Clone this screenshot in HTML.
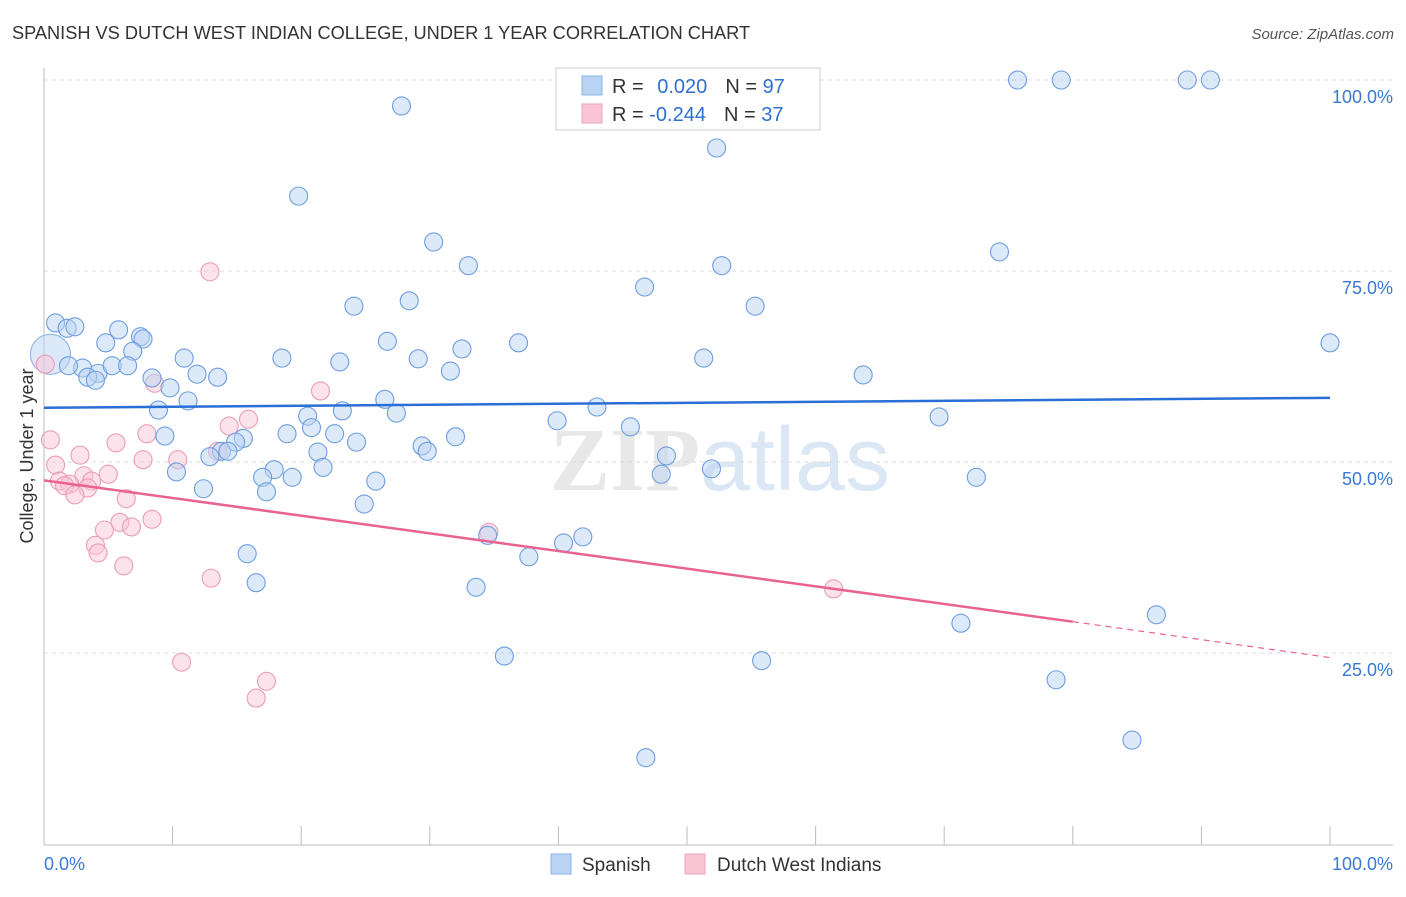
<!DOCTYPE html>
<html><head><meta charset="utf-8"><style>
body{margin:0;background:#fff;font-family:"Liberation Sans",sans-serif;}
</style></head><body>
<svg id="chart" width="1406" height="892" xmlns="http://www.w3.org/2000/svg" font-family="Liberation Sans, sans-serif">
<text x="12" y="39" font-size="18.2" fill="#333">SPANISH VS DUTCH WEST INDIAN COLLEGE, UNDER 1 YEAR CORRELATION CHART</text>
<text x="1394" y="39" font-size="15" fill="#555" text-anchor="end" font-style="italic">Source: ZipAtlas.com</text>
<text x="720" y="490" font-size="90" text-anchor="middle" fill="#e8e8e8" font-family="Liberation Serif, serif" font-weight="bold">ZIP<tspan fill="#dce7f5" font-family="Liberation Sans, sans-serif" font-weight="normal">atlas</tspan></text>
<g id="grid"></g>
<g id="axes"></g>
<g id="pts"></g>
<g id="lines"></g>
<text transform="translate(33,456) rotate(-90)" font-size="18" fill="#333" text-anchor="middle">College, Under 1 year</text>
<g>
<rect x="556" y="68" width="264" height="62" fill="#fff" stroke="#ccc"/>
<rect x="582" y="76" width="20" height="19" fill="#b9d3f3" stroke="#8fb3e4"/>
<rect x="582" y="104" width="20" height="19" fill="#f9c5d5" stroke="#eea3bb"/>
<text x="612" y="93" font-size="20" fill="#333">R = <tspan fill="#2f6fd0" dx="8">0.020</tspan><tspan dx="18">N = </tspan><tspan fill="#2f6fd0">97</tspan></text>
<text x="612" y="121" font-size="20" fill="#333">R = <tspan fill="#2f6fd0">-0.244</tspan><tspan dx="18">N = </tspan><tspan fill="#2f6fd0">37</tspan></text>
</g>
<g>
<rect x="551" y="854" width="20" height="20" fill="#b9d3f3" stroke="#8fb3e4"/>
<text x="582" y="871" font-size="19" fill="#333">Spanish</text>
<rect x="685" y="854" width="20" height="20" fill="#f9c5d5" stroke="#eea3bb"/>
<text x="717" y="871" font-size="19" fill="#333">Dutch West Indians</text>
</g>
<text x="44" y="870" font-size="18" fill="#3a78d4">0.0%</text>
<text x="1393" y="870" font-size="18" fill="#3a78d4" text-anchor="end">100.0%</text>
</svg>
<script>
const yTicks=[25,50,75,100];
const yTickLabels=["25.0%","50.0%","75.0%","100.0%"];
const xTicks=[0,10,20,30,40,50,60,70,80,90,100];
const spanishPx=[[401,106],[298,196],[716,148],[1017,80],[1061,80],[1187,80],[1210,80],[434,242],[468,266],[722,266],[999,252],[644,287],[755,306],[354,306],[409,301],[55,323],[67,328],[75,327],[118,330],[140,337],[143,339],[106,343],[133,351],[387,341],[518,343],[462,349],[282,358],[340,362],[418,359],[450,371],[184,358],[704,358],[863,375],[82,368],[68,366],[98,373],[112,366],[127,366],[88,377],[95,380],[152,378],[197,374],[217,377],[170,388],[188,401],[158,410],[385,399],[396,413],[307,416],[342,411],[597,407],[557,421],[939,417],[312,428],[287,434],[334,434],[165,436],[356,442],[455,437],[630,427],[243,438],[236,442],[222,451],[228,451],[210,457],[422,446],[427,451],[318,452],[667,456],[177,472],[274,470],[323,467],[263,477],[292,477],[376,481],[267,492],[203,489],[711,469],[976,477],[661,474],[364,504],[488,535],[583,537],[563,543],[529,557],[247,554],[256,583],[476,587],[1157,615],[961,623],[504,656],[762,661],[1056,680],[1132,740],[646,758],[1330,343]];
const dutchPx=[[210,272],[320,391],[155,383],[248,419],[229,426],[147,434],[50,440],[116,443],[80,455],[178,460],[143,460],[56,465],[218,451],[108,474],[84,476],[60,481],[70,484],[64,486],[92,481],[88,488],[75,495],[126,499],[120,522],[152,519],[131,527],[104,530],[95,545],[98,553],[124,566],[211,578],[489,532],[833,589],[182,662],[266,681],[256,698],[45,364]];
const spanishX=spanishPx.map(p=>+((p[0]-44)/12.86).toFixed(1));
const spanishY=spanishPx.map(p=>+((844-p[1])/7.64).toFixed(1));
const dutchX=dutchPx.map(p=>+((p[0]-44)/12.86).toFixed(1));
const dutchY=dutchPx.map(p=>+((844-p[1])/7.64).toFixed(1));
const bigBlue=[0.5,64.1];
const blueLine=[[0,57.1],[100,58.4]];
const pinkLine=[[0,47.6],[80,29.1],[100,24.4]];
const X=v=>44+v*12.86, Y=v=>844-v*7.64;
const NS="http://www.w3.org/2000/svg";
function mk(t,a,p){const e=document.createElementNS(NS,t);for(const k in a)e.setAttribute(k,a[k]);p.appendChild(e);return e;}
const grid=document.getElementById('grid'),axes=document.getElementById('axes'),pts=document.getElementById('pts'),lines=document.getElementById('lines');
yTicks.forEach((t,i)=>{
 const l=mk('line',{x1:44,x2:1393,y1:Y(t),y2:Y(t),stroke:'#ddd','stroke-dasharray':'4,4'},grid);
 
 
 const tx=mk('text',{x:1393,y:Y(t)+23,'font-size':18,fill:'#3a78d4','text-anchor':'end'},axes);
 tx.textContent=yTickLabels[i];
 
 
});
const ya=mk('line',{x1:44,x2:44,y1:68,y2:845,stroke:'#bbb'},axes);


const xa=mk('line',{x1:44,x2:1393,y1:845,y2:845,stroke:'#bbb'},axes);


xTicks.forEach(t=>{
 const l=mk('line',{x1:X(t),x2:X(t),y1:826,y2:845,stroke:'#bbb'},axes);
 
 
});
function dot(x,y,r,fill,stroke,name){
 const c=mk('circle',{cx:X(x),cy:Y(y),r:r,fill:fill,'fill-opacity':0.5,stroke:stroke,'stroke-width':1.1},pts);
 
 
}
dot(bigBlue[0],bigBlue[1],20,'#b9d3f3','#8fb3e4','spanish-point');
dutchX.forEach((x,i)=>dot(x,dutchY[i],9,'#f9c5d5','#eb9db7','dutch-point'));
spanishX.forEach((x,i)=>dot(x,spanishY[i],9,'#b9d3f3','#6d9ee0','spanish-point'));
const bl=mk('line',{x1:X(blueLine[0][0]),y1:Y(blueLine[0][1]),x2:X(blueLine[1][0]),y2:Y(blueLine[1][1]),stroke:'#2a6fd6','stroke-width':2.5},lines);


const pl=mk('line',{x1:X(pinkLine[0][0]),y1:Y(pinkLine[0][1]),x2:X(pinkLine[1][0]),y2:Y(pinkLine[1][1]),stroke:'#e8638f','stroke-width':2.5},lines);


const pd=mk('line',{x1:X(pinkLine[1][0]),y1:Y(pinkLine[1][1]),x2:X(pinkLine[2][0]),y2:Y(pinkLine[2][1]),stroke:'#e8638f','stroke-width':1.2,'stroke-dasharray':'6,5'},lines);


</script>
</body></html>
